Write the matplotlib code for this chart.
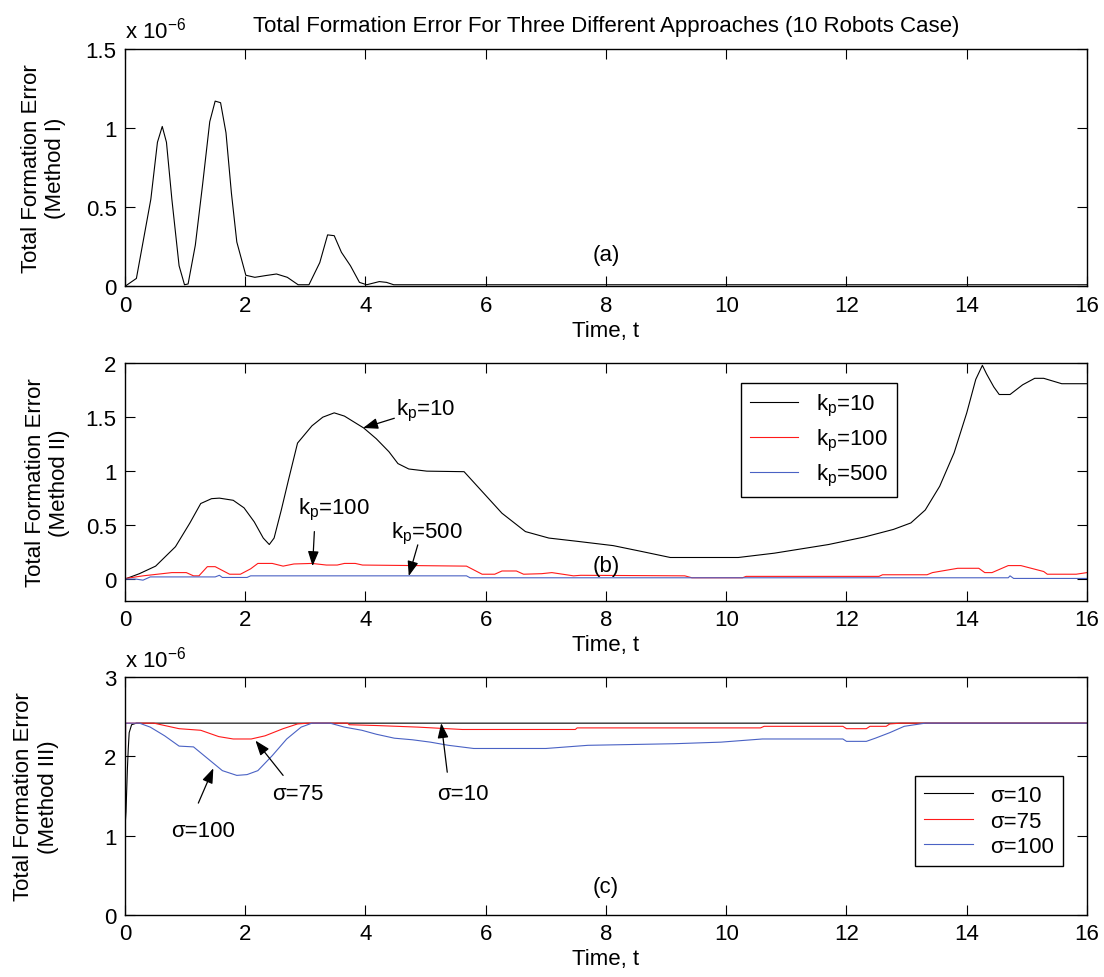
import matplotlib
matplotlib.use("Agg")
import matplotlib.pyplot as plt

plt.rcParams['font.family'] = ['Liberation Sans', 'DejaVu Sans']
plt.rcParams['mathtext.fontset'] = 'custom'
plt.rcParams['mathtext.rm'] = 'Liberation Sans'
plt.rcParams['mathtext.it'] = 'Liberation Sans:italic'
plt.rcParams['font.size'] = 16

# ---- data (errors in units of 1e-6 for panels a and c) ----
x_ticks = [0, 2, 4, 6, 8, 10, 12, 14, 16]
ya_ticks = [0, 0.5, 1, 1.5]
ya_labels = ['0', '0.5', '1', '1.5']
yb_ticks = [0, 0.5, 1, 1.5, 2]
yb_labels = ['0', '0.5', '1', '1.5', '2']
yc_ticks = [0, 1, 2, 3]
yc_labels = ['0', '1', '2', '3']

# (a) Method I
ta = [0, 0.19, 0.31, 0.43, 0.54, 0.62, 0.69, 0.78, 0.90, 0.99, 1.05, 1.17, 1.29, 1.41, 1.50,
      1.59, 1.68, 1.77, 1.86, 2.01, 2.16, 2.34, 2.52, 2.70, 2.88, 3.06, 3.24, 3.37, 3.48, 3.60,
      3.75, 3.90, 4.02, 4.23, 4.35, 4.47, 16]
ea = [0, 0.05, 0.30, 0.55, 0.91, 1.01, 0.91, 0.55, 0.13, 0.01, 0.015, 0.26, 0.64, 1.04, 1.17,
      1.16, 0.97, 0.59, 0.28, 0.07, 0.057, 0.068, 0.078, 0.057, 0.01, 0.01, 0.15, 0.325, 0.32, 0.215,
      0.13, 0.025, 0.01, 0.03, 0.025, 0.01, 0.01]

# (b) Method II
tb10 = [0, 0.24, 0.51, 0.84, 1.08, 1.26, 1.44, 1.57, 1.80, 1.98, 2.15, 2.30, 2.40, 2.48, 2.60,
        2.72, 2.87, 3.11, 3.29, 3.48, 3.65, 3.97, 4.18, 4.39, 4.54, 4.72, 5.02, 5.64, 5.91, 6.27,
        6.66, 7.05, 7.52, 8.12, 8.60, 9.07, 10.2, 10.8, 11.7, 12.3, 12.78, 13.07, 13.31, 13.55, 13.79,
        14.0, 14.15, 14.26, 14.33, 14.45, 14.54, 14.72, 14.93, 15.13, 15.28, 15.58, 16.0]
eb10 = [0, 0.05, 0.12, 0.30, 0.52, 0.70, 0.745, 0.75, 0.73, 0.66, 0.53, 0.38, 0.32, 0.38, 0.64,
        0.92, 1.26, 1.42, 1.50, 1.54, 1.51, 1.40, 1.30, 1.18, 1.07, 1.02, 1.00, 0.995, 0.83, 0.61,
        0.44, 0.38, 0.35, 0.31, 0.255, 0.20, 0.20, 0.24, 0.32, 0.39, 0.46, 0.52, 0.64, 0.86, 1.17,
        1.54, 1.85, 1.98, 1.90, 1.78, 1.71, 1.71, 1.80, 1.86, 1.86, 1.81, 1.81]
tb100 = [0, 0.30, 0.54, 0.78, 1.02, 1.14, 1.23, 1.37, 1.50, 1.74, 1.92, 2.09, 2.21, 2.45, 2.63,
         2.81, 3.11, 3.35, 3.53, 3.65, 3.83, 3.95, 5.68, 5.94, 6.15, 6.27, 6.51, 6.63, 6.93, 7.10,
         7.46, 7.58, 9.31, 9.43, 10.27, 10.33, 12.54, 12.60, 13.34, 13.43, 13.85, 14.20, 14.30, 14.42,
         14.69, 14.90, 15.28, 15.34, 15.82, 16.0]
eb100 = [0.005, 0.03, 0.045, 0.06, 0.06, 0.03, 0.03, 0.115, 0.115, 0.045, 0.045, 0.095, 0.145, 0.145,
         0.12, 0.14, 0.145, 0.13, 0.13, 0.145, 0.145, 0.13, 0.12, 0.045, 0.045, 0.075, 0.075, 0.045,
         0.05, 0.06, 0.03, 0.035, 0.03, 0.012, 0.012, 0.025, 0.025, 0.04, 0.04, 0.06, 0.10, 0.10,
         0.06, 0.06, 0.125, 0.125, 0.07, 0.045, 0.045, 0.06]
tb500 = [0, 0.18, 0.30, 0.42, 1.50, 1.57, 1.62, 2.03, 2.09, 5.68, 5.74, 14.69, 14.72, 14.78, 16.0]
eb500 = [0, 0, -0.01, 0.02, 0.02, 0.035, 0.015, 0.015, 0.03, 0.03, 0.012, 0.012, 0.03, 0.006, 0.006]

# (c) Method III
tc10 = [0, 0.017, 0.04, 0.055, 0.07, 0.11, 0.19, 16]
ec10 = [1.1, 1.30, 1.84, 2.1, 2.3, 2.4, 2.42, 2.42]
tc75 = [0, 0.01, 0.48, 0.72, 0.90, 1.26, 1.56, 1.80, 2.10, 2.33, 2.63, 2.87, 3.05, 3.70, 3.73,
        4.18, 4.87, 5.61, 7.49, 7.52, 10.57, 10.63, 11.94, 12.0, 12.33, 12.39, 12.66, 12.72, 12.9, 16]
ec75 = [0, 2.42, 2.42, 2.38, 2.35, 2.33, 2.25, 2.22, 2.22, 2.26, 2.35, 2.41, 2.42, 2.42, 2.40,
        2.39, 2.37, 2.34, 2.34, 2.36, 2.36, 2.38, 2.38, 2.35, 2.35, 2.38, 2.38, 2.41, 2.42, 2.42]
tc100 = [0, 0.01, 0.24, 0.42, 0.66, 0.90, 1.14, 1.38, 1.62, 1.86, 2.03, 2.21, 2.45, 2.69, 2.93,
         3.11, 3.41, 3.65, 3.94, 4.18, 4.48, 4.78, 5.08, 5.38, 5.80, 7.0, 7.7, 9.13, 9.91, 10.6,
         11.94, 12.0, 12.33, 12.48, 12.72, 12.96, 13.31, 16]
ec100 = [0, 2.42, 2.42, 2.37, 2.26, 2.13, 2.12, 1.97, 1.82, 1.76, 1.77, 1.82, 2.01, 2.22, 2.37,
         2.42, 2.42, 2.37, 2.33, 2.28, 2.23, 2.21, 2.18, 2.14, 2.10, 2.10, 2.14, 2.16, 2.18, 2.22,
         2.22, 2.19, 2.19, 2.23, 2.30, 2.38, 2.42, 2.42]

BLUE = '#4a62c4'
RED = '#ff1a1a'
ARROW = dict(arrowstyle='-|>,head_length=0.6,head_width=0.22', mutation_scale=15,
             color='k', lw=0.9, shrinkA=0, shrinkB=0)


def style(ax, ylim, yticks, ylabels, ylabel, label_x):
    ax.set_xlim(0, 16)
    ax.set_ylim(*ylim)
    ax.set_xticks(x_ticks)
    ax.set_yticks(yticks)
    ax.set_yticklabels(ylabels)
    ax.tick_params(direction='in', top=True, right=True, length=7, width=0.8, pad=6, labelsize=16)
    for s in ax.spines.values():
        s.set_linewidth(1.0)
    ax.set_xlabel("Time, t", labelpad=3)
    ax.set_ylabel(ylabel)
    ax.yaxis.set_label_coords(label_x, 0.5)


fig = plt.figure(figsize=(11.04, 9.78), dpi=100)
left, width, height = 0.1132, 0.8714, 0.2428
ax_a = fig.add_axes([left, 0.7062, width, height])
ax_b = fig.add_axes([left, 0.3848, width, height])
ax_c = fig.add_axes([left, 0.0637, width, height])

# panel (a)
ax_a.plot(ta, ea, color='k', lw=0.8)
style(ax_a, (0, 1.5), ya_ticks, ya_labels, "Total Formation Error\n(Method I)", -0.061)
ax_a.set_title("Total Formation Error For Three Different Approaches (10 Robots Case)",
               fontsize=16, pad=13)
ax_a.text(0, 1.025, r"x 10$^{\mathregular{-6}}$", transform=ax_a.transAxes, ha='left', va='bottom')
ax_a.text(8, 0.2, "(a)", ha='center', va='center')

# panel (b)
ax_b.plot(tb10, eb10, color='k', lw=0.8, label=r"k$_\mathregular{p}$=10")
ax_b.plot(tb100, eb100, color=RED, lw=0.8, label=r"k$_\mathregular{p}$=100")
ax_b.plot(tb500, eb500, color=BLUE, lw=0.8, label=r"k$_\mathregular{p}$=500")
style(ax_b, (-0.2, 2), yb_ticks, yb_labels, "Total Formation Error\n(Method II)", -0.057)
ax_b.text(8, 0.13, "(b)", ha='center', va='center')
ax_b.text(4.51, 1.53, r"k$_\mathregular{p}$=10", ha='left', va='baseline')
ax_b.annotate("", xy=(3.96, 1.40), xytext=(4.48, 1.49), arrowprops=ARROW)
ax_b.text(2.87, 0.61, r"k$_\mathregular{p}$=100", ha='left', va='baseline')
ax_b.annotate("", xy=(3.12, 0.12), xytext=(3.15, 0.44), arrowprops=ARROW)
ax_b.text(4.42, 0.385, r"k$_\mathregular{p}$=500", ha='left', va='baseline')
ax_b.annotate("", xy=(4.72, 0.028), xytext=(4.87, 0.317), arrowprops=ARROW)
leg_b = ax_b.legend(loc='upper left', bbox_to_anchor=(0.640, 0.916), fancybox=False,
                    edgecolor='k', framealpha=1, fontsize=16, handlelength=2.2,
                    handletextpad=0.8, labelspacing=0.4, borderpad=0.4, borderaxespad=0)
leg_b.get_frame().set_linewidth(1.0)

# panel (c)
ax_c.plot(tc10, ec10, color='k', lw=0.8, label="σ=10")
ax_c.plot(tc75, ec75, color=RED, lw=0.8, label="σ=75")
ax_c.plot(tc100, ec100, color=BLUE, lw=0.8, label="σ=100")
style(ax_c, (0, 3), yc_ticks, yc_labels, "Total Formation Error\n(Method III)", -0.069)
ax_c.text(0, 1.025, r"x 10$^{\mathregular{-6}}$", transform=ax_c.transAxes, ha='left', va='bottom')
ax_c.text(8, 0.35, "(c)", ha='center', va='center')
ax_c.text(0.77, 1.0, "σ=100", ha='left', va='baseline')
ax_c.annotate("", xy=(1.47, 1.85), xytext=(1.22, 1.41), arrowprops=ARROW)
ax_c.text(2.44, 1.46, "σ=75", ha='left', va='baseline')
ax_c.annotate("", xy=(2.17, 2.20), xytext=(2.63, 1.76), arrowprops=ARROW)
ax_c.text(5.19, 1.46, "σ=10", ha='left', va='baseline')
ax_c.annotate("", xy=(5.26, 2.42), xytext=(5.36, 1.80), arrowprops=ARROW)
leg_c = ax_c.legend(loc='upper left', bbox_to_anchor=(0.821, 0.583), fancybox=False,
                    edgecolor='k', framealpha=1, fontsize=16, handlelength=2.2,
                    handletextpad=0.8, labelspacing=0.2, borderpad=0.4, borderaxespad=0)
leg_c.get_frame().set_linewidth(1.0)

fig.savefig("out.png", dpi=100, facecolor='white')
